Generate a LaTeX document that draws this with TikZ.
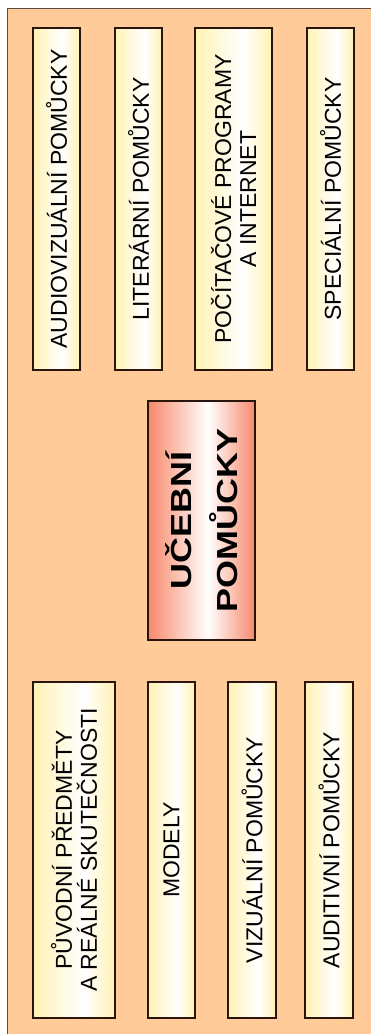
\documentclass[tikz,border=0pt]{standalone}
\usepackage{fontspec}
\setmainfont{Liberation Sans}
\newfontfamily\hubfamily[FakeStretch=1.24]{Liberation Sans}
\usepackage{xcolor}
\usepackage{tikz}
\usetikzlibrary{positioning}
\definecolor{peach}{HTML}{FFCC99}
\definecolor{cream}{HTML}{FFF2B4}
\definecolor{coral}{HTML}{F7886A}
\definecolor{edge}{HTML}{2A150C}
\definecolor{frame}{HTML}{5C4C42}
% white band sits right of the middle
\pgfdeclarehorizontalshading{itemshade}{100bp}{color(0bp)=(cream); color(25bp)=(cream);
  color(56bp)=(white); color(75bp)=(cream); color(100bp)=(cream)}
\pgfdeclarehorizontalshading{hubshade}{100bp}{color(0bp)=(coral); color(25bp)=(coral);
  color(53bp)=(white); color(75bp)=(coral); color(100bp)=(coral)}
\tikzset{
  item/.style={draw=edge,line width=1.8pt,shading=itemshade,rotate=90,
               inner sep=0pt,align=center,font=\fontsize{23}{25}\selectfont},
  hub/.style ={draw=edge,line width=1.8pt,shading=hubshade,rotate=90,
               inner sep=0pt,align=center,
               font=\hubfamily\bfseries\fontsize{29}{46}\selectfont},
  sheet/.style={fill=peach,draw=frame,line width=0.9pt}
}
\begin{document}
\begin{tikzpicture}[x=1pt,y=-1pt]
    \useasboundingbox[fill=white] (0,0) rectangle (371,1034);
    % --- background sheet ---
    \draw[sheet] (7.5,8.5) rectangle (380,1045);
    % --- centre ---
    \node[hub,minimum width=239,minimum height=107] (hub) at (201.5,520.5)
      {UČEBNÍ\\POMŮCKY};
    % --- top row ---
    \node[item,minimum width=342,minimum height=47] (audiovis) at (56.5,199)
      {AUDIOVIZUÁLNÍ POMŮCKY};
    \node[item,minimum width=342,minimum height=47] (literar) at (138.5,199)
      {LITERÁRNÍ POMŮCKY};
    \node[item,minimum width=342,minimum height=77] (pocitac) at (233.5,199)
      {POČÍTAČOVÉ PROGRAMY\\A INTERNET};
    \node[item,minimum width=342,minimum height=47] (special) at (330.5,199)
      {SPECIÁLNÍ POMŮCKY};
    % --- bottom row ---
    \node[item,minimum width=336,minimum height=82] (puvodni) at (74,850)
      {PŮVODNÍ PŘEDMĚTY\\A REÁLNÉ SKUTEČNOSTI};
    \node[item,minimum width=336,minimum height=47] (modely) at (171.5,850)
      {MODELY};
    \node[item,minimum width=336,minimum height=48] (vizual) at (252,850)
      {VIZUÁLNÍ POMŮCKY};
    \node[item,minimum width=336,minimum height=48] (audit) at (329,850)
      {AUDITIVNÍ POMŮCKY};
\end{tikzpicture}
\end{document}
